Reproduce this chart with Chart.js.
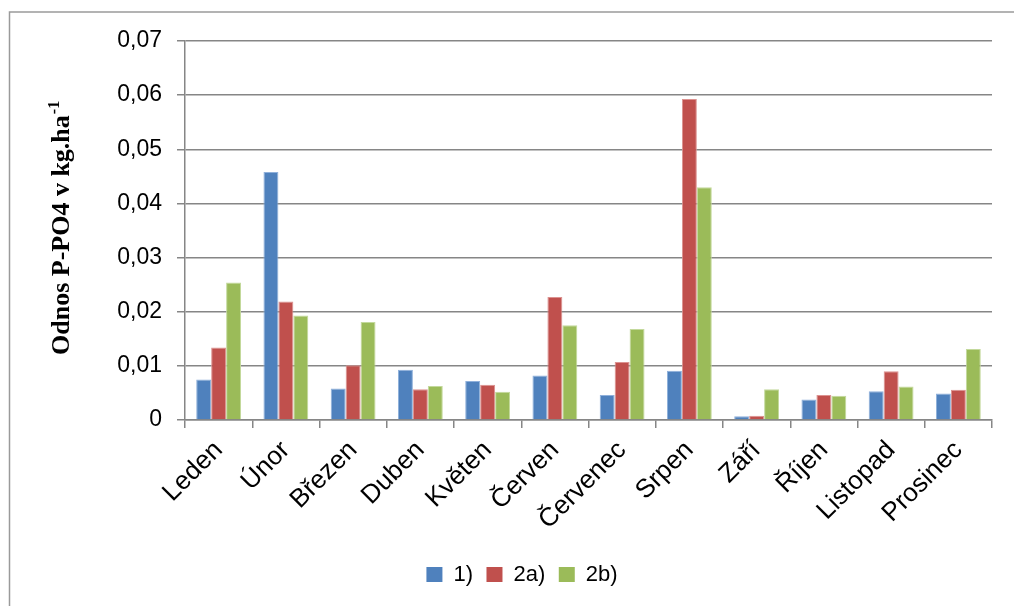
<!DOCTYPE html>
<html>
<head>
<meta charset="utf-8">
<script src="https://cdn.jsdelivr.net/npm/chart.js@4"></script>
<style>
  html, body { margin: 0; padding: 0; background: #ffffff; }
  #wrap { width: 1014px; height: 606px; position: relative; }
</style>
</head>
<body>
<div id="wrap"><canvas id="c" width="1014" height="606"></canvas></div>
<script>
// Monthly P-PO4 runoff (kg/ha) for three variants
const months = ['Leden', 'Únor', 'Březen', 'Duben', 'Květen', 'Červen',
                'Červenec', 'Srpen', 'Září', 'Říjen', 'Listopad', 'Prosinec'];
const series1  = [0.0075, 0.0458, 0.0058, 0.0093, 0.0072, 0.0082, 0.0046, 0.0091, 0.0007, 0.0038, 0.0053, 0.0049];
const series2a = [0.0134, 0.0219, 0.0101, 0.0057, 0.0065, 0.0227, 0.0107, 0.0593, 0.0008, 0.0046, 0.0090, 0.0056];
const series2b = [0.0254, 0.0193, 0.0181, 0.0063, 0.0052, 0.0175, 0.0168, 0.0430, 0.0057, 0.0045, 0.0062, 0.0131];
const seriesNames = ['1)', '2a)', '2b)'];
const yTickValues = [0, 0.01, 0.02, 0.03, 0.04, 0.05, 0.06, 0.07];
const yTitle = 'Odnos P-PO4 v kg.ha';
const yTitleSup = '-1';

const COLORS = ['#4F81BD', '#C0504D', '#9BBB59'];
const EDGES = ['#8fb0db', '#dc9290', '#c3d99c'];
const GRID = '#868686';
const SANS = '"Liberation Sans", Arial, sans-serif';
const SERIF = '"Liberation Serif", "Times New Roman", serif';

// Frame around the whole chart object
const framePlugin = {
  id: 'frame',
  beforeDraw(chart) {
    const ctx = chart.ctx;
    ctx.save();
    ctx.fillStyle = '#ffffff';
    ctx.fillRect(0, 0, chart.width, chart.height);
    ctx.strokeStyle = '#9a9a9a';
    ctx.lineWidth = 1.5;
    ctx.strokeRect(9.5, 12, chart.width + 20, chart.height + 20);
    ctx.restore();
  }
};

// The chart object is wider than the view, so its legend sits a little right of the view centre
const legendShiftPlugin = {
  id: 'legendShift',
  afterLayout(chart) {
    if (chart.legend) {
      chart.legend.left += 21;
      chart.legend.right += 21;
    }
  }
};

// Rotated axis title with a superscript exponent
const yTitlePlugin = {
  id: 'yTitleSup',
  afterDraw(chart) {
    const ctx = chart.ctx;
    ctx.save();
    ctx.translate(69, 355);
    ctx.rotate(-Math.PI / 2);
    ctx.fillStyle = '#000000';
    ctx.textAlign = 'left';
    ctx.textBaseline = 'alphabetic';
    ctx.font = 'bold 26px ' + SERIF;
    ctx.fillText(yTitle, 0, 0);
    const w = ctx.measureText(yTitle).width;
    ctx.font = 'bold 16px ' + SERIF;
    ctx.fillText(yTitleSup, w + 1, -10);
    ctx.restore();
  }
};

const datasets = [series1, series2a, series2b].map((vals, i) => ({
  label: seriesNames[i],
  data: vals,
  backgroundColor: COLORS[i],
  borderColor: EDGES[i],
  borderWidth: { top: 1, left: 1, right: 1, bottom: 0 },
  categoryPercentage: 3 / 4.5,
  barPercentage: 1.0
}));

new Chart(document.getElementById('c'), {
  type: 'bar',
  data: { labels: months, datasets },
  plugins: [framePlugin, legendShiftPlugin, yTitlePlugin],
  options: {
    responsive: false,
    animation: false,
    devicePixelRatio: 1,
    layout: { padding: { left: 10, top: 41, right: 22, bottom: 10.5 } },
    plugins: {
      tooltip: { enabled: false },
      title: { display: false },
      legend: {
        position: 'bottom',
        labels: {
          boxWidth: 16,
          boxHeight: 15,
          padding: 13.5,
          color: '#000000',
          font: { family: SANS, size: 22 },
          generateLabels(chart) {
            return chart.data.datasets.map((ds, i) => ({
              text: ds.label,
              fillStyle: COLORS[i],
              strokeStyle: COLORS[i],
              lineWidth: 0,
              hidden: false,
              datasetIndex: i,
              fontColor: '#000000'
            }));
          }
        }
      }
    },
    scales: {
      x: {
        offset: true,
        grid: {
          offset: true,
          drawOnChartArea: false,
          drawTicks: true,
          tickLength: 8,
          color: GRID,
          lineWidth: 1.5
        },
        border: { display: true, color: GRID, width: 1.5 },
        ticks: {
          maxRotation: 45,
          minRotation: 45,
          autoSkip: false,
          padding: 7,
          color: '#000000',
          font: { family: SANS, size: 26 }
        },
        afterFit(scale) { scale.height = 130; }
      },
      y: {
        min: 0,
        max: 0.07,
        afterBuildTicks(scale) { scale.ticks = yTickValues.map(v => ({ value: v })); },
        grid: {
          color: GRID,
          lineWidth: 1.5,
          drawTicks: true,
          tickLength: 8
        },
        border: { display: true, color: GRID, width: 1.5 },
        ticks: {
          padding: 15,
          color: '#000000',
          font: { family: SANS, size: 23 },
          callback(v) { return v === 0 ? '0' : v.toFixed(2).replace('.', ','); }
        },
        afterFit(scale) { scale.width = 175; }
      }
    }
  }
});
</script>
</body>
</html>
